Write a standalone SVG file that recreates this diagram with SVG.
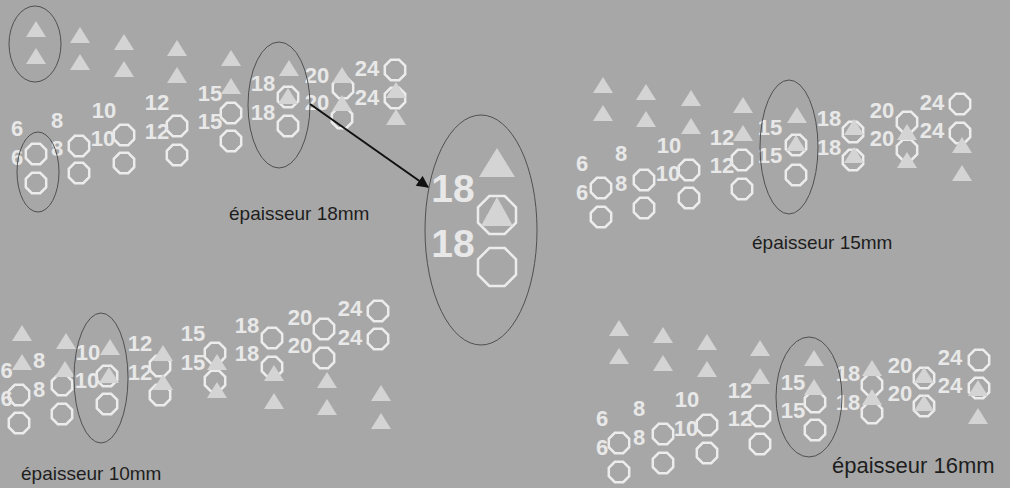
<svg xmlns="http://www.w3.org/2000/svg" xmlns:xlink="http://www.w3.org/1999/xlink" width="1010" height="488" viewBox="0 0 1010 488">
<style>
.o{fill:none;stroke:#ececec;stroke-width:2.5}
.t{fill:#d4d4d4}
.n{font-family:"Liberation Sans",Arial,sans-serif;font-weight:bold;font-size:22px;fill:#e8e8e8;text-anchor:middle}
.big{font-size:39px}
.e{fill:none;stroke:#505050;stroke-width:1}
.cap{font-family:"Liberation Sans",Arial,sans-serif;font-size:19px;fill:#1e1e1e}
.capL{font-size:22px}
.c{stroke:#111;stroke-width:2;fill:none}
</style>
<defs>
<polygon id="oct" class="o" points="4.2,-10.2 10.2,-4.2 10.2,4.2 4.2,10.2 -4.2,10.2 -10.2,4.2 -10.2,-4.2 -4.2,-10.2"/>
<polygon id="tri" class="t" points="0,-8 10,8 -10,8"/>
<marker id="ah" viewBox="0 0 10 10" refX="9" refY="5" markerWidth="7" markerHeight="6" orient="auto" markerUnits="strokeWidth"><path d="M0,0 L10,5 L0,10 z" fill="#111"/></marker>
</defs>
<rect width="1010" height="488" fill="#a7a7a7"/>

<g id="panel-18mm">
<use href="#oct" x="36" y="154"/><use href="#oct" x="36" y="183"/>
<use href="#oct" x="79" y="146"/><use href="#oct" x="79" y="173"/>
<use href="#oct" x="124" y="135"/><use href="#oct" x="124" y="163"/>
<use href="#oct" x="177" y="126"/><use href="#oct" x="177" y="155"/>
<use href="#oct" x="231" y="113"/><use href="#oct" x="231" y="141"/>
<use href="#oct" x="288" y="97"/><use href="#oct" x="288" y="126"/>
<use href="#oct" x="343" y="88"/><use href="#oct" x="342" y="118"/>
<use href="#oct" x="395" y="70"/><use href="#oct" x="395" y="98"/>
<use href="#tri" x="36" y="29"/><use href="#tri" x="36" y="56"/>
<use href="#tri" x="80" y="35"/><use href="#tri" x="80" y="62"/>
<use href="#tri" x="124" y="42"/><use href="#tri" x="124" y="69"/>
<use href="#tri" x="177" y="48"/><use href="#tri" x="177" y="75"/>
<use href="#tri" x="231" y="58"/><use href="#tri" x="231" y="86"/>
<use href="#tri" x="289" y="68"/><use href="#tri" x="288" y="96"/>
<use href="#tri" x="342" y="75"/><use href="#tri" x="342" y="103"/>
<use href="#tri" x="396" y="90"/><use href="#tri" x="396" y="117"/>
<text class="n" x="17" y="136">6</text><text class="n" x="17" y="165">6</text>
<text class="n" x="57" y="128">8</text><text class="n" x="57" y="156">8</text>
<text class="n" x="104" y="118">10</text><text class="n" x="103" y="146">10</text>
<text class="n" x="157" y="110">12</text><text class="n" x="157" y="139">12</text>
<text class="n" x="210" y="101">15</text><text class="n" x="210" y="129">15</text>
<text class="n" x="263" y="91">18</text><text class="n" x="263" y="120">18</text>
<text class="n" x="317" y="83">20</text><text class="n" x="317" y="110">20</text>
<text class="n" x="367" y="76">24</text><text class="n" x="367" y="105">24</text>
<ellipse class="e" cx="35" cy="44" rx="26" ry="38"/>
<ellipse class="e" cx="38" cy="172" rx="21" ry="40"/>
<ellipse class="e" cx="279" cy="105" rx="31" ry="63"/>
<text class="cap" x="229" y="220">épaisseur 18mm</text>
</g>

<g id="detail-18">
<ellipse class="e" cx="481" cy="230" rx="56" ry="115"/>
<polygon class="o" points="504.7,196 516,207.3 516,222.7 504.7,234 489.3,234 478,222.7 478,207.3 489.3,196"/>
<polygon class="o" points="504.7,248 516,259.3 516,274.7 504.7,286 489.3,286 478,274.7 478,259.3 489.3,248"/>
<polygon class="t" points="497,148 515,177 479,177"/>
<polygon class="t" points="497,197 513,226 481,226"/>
<text class="n big" x="453" y="202">18</text>
<text class="n big" x="453" y="257">18</text>
</g>

<g id="panel-15mm">
<use href="#oct" x="601" y="188"/><use href="#oct" x="601" y="217"/>
<use href="#oct" x="644" y="180"/><use href="#oct" x="644" y="208"/>
<use href="#oct" x="689" y="170"/><use href="#oct" x="689" y="198"/>
<use href="#oct" x="742" y="160"/><use href="#oct" x="742" y="189"/>
<use href="#oct" x="796" y="145"/><use href="#oct" x="796" y="175"/>
<use href="#oct" x="853" y="132"/><use href="#oct" x="853" y="160"/>
<use href="#oct" x="907" y="122"/><use href="#oct" x="907" y="150"/>
<use href="#oct" x="960" y="104"/><use href="#oct" x="960" y="133"/>
<use href="#tri" x="603" y="85"/><use href="#tri" x="603" y="113"/>
<use href="#tri" x="646" y="92"/><use href="#tri" x="646" y="119"/>
<use href="#tri" x="691" y="98"/><use href="#tri" x="691" y="126"/>
<use href="#tri" x="743" y="105"/><use href="#tri" x="743" y="133"/>
<use href="#tri" x="797" y="115"/><use href="#tri" x="796" y="143"/>
<use href="#tri" x="854" y="127"/><use href="#tri" x="854" y="155"/>
<use href="#tri" x="907" y="132"/><use href="#tri" x="907" y="160"/>
<use href="#tri" x="962" y="145"/><use href="#tri" x="962" y="173"/>
<text class="n" x="582" y="171">6</text><text class="n" x="582" y="200">6</text>
<text class="n" x="621" y="161">8</text><text class="n" x="621" y="191">8</text>
<text class="n" x="669" y="153">10</text><text class="n" x="668" y="181">10</text>
<text class="n" x="722" y="145">12</text><text class="n" x="722" y="173">12</text>
<text class="n" x="770" y="135">15</text><text class="n" x="770" y="163">15</text>
<text class="n" x="829" y="126">18</text><text class="n" x="829" y="155">18</text>
<text class="n" x="882" y="118">20</text><text class="n" x="882" y="146">20</text>
<text class="n" x="932" y="110">24</text><text class="n" x="932" y="138">24</text>
<ellipse class="e" cx="789" cy="147" rx="29" ry="67"/>
<text class="cap" x="752" y="249">épaisseur 15mm</text>
</g>

<g id="panel-10mm">
<use href="#oct" x="19" y="395"/><use href="#oct" x="19" y="423"/>
<use href="#oct" x="62" y="385"/><use href="#oct" x="62" y="414"/>
<use href="#oct" x="107" y="376"/><use href="#oct" x="107" y="404"/>
<use href="#oct" x="160" y="366"/><use href="#oct" x="160" y="395"/>
<use href="#oct" x="215" y="353"/><use href="#oct" x="215" y="381"/>
<use href="#oct" x="272" y="338"/><use href="#oct" x="272" y="367"/>
<use href="#oct" x="324" y="329"/><use href="#oct" x="324" y="358"/>
<use href="#oct" x="378" y="311"/><use href="#oct" x="378" y="339"/>
<use href="#tri" x="22" y="333"/><use href="#tri" x="22" y="362"/>
<use href="#tri" x="66" y="341"/><use href="#tri" x="65" y="369"/>
<use href="#tri" x="110" y="347"/><use href="#tri" x="109" y="375"/>
<use href="#tri" x="163" y="353"/><use href="#tri" x="163" y="382"/>
<use href="#tri" x="217" y="362"/><use href="#tri" x="217" y="390"/>
<use href="#tri" x="274" y="373"/><use href="#tri" x="274" y="401"/>
<use href="#tri" x="327" y="380"/><use href="#tri" x="327" y="407"/>
<use href="#tri" x="381" y="393"/><use href="#tri" x="381" y="421"/>
<text class="n" x="6.5" y="378">6</text><text class="n" x="6.5" y="406">6</text>
<text class="n" x="39" y="368">8</text><text class="n" x="39" y="397">8</text>
<text class="n" x="88" y="360">10</text><text class="n" x="87" y="388">10</text>
<text class="n" x="140" y="351">12</text><text class="n" x="140" y="380">12</text>
<text class="n" x="193" y="341">15</text><text class="n" x="193" y="370">15</text>
<text class="n" x="247" y="333">18</text><text class="n" x="247" y="361">18</text>
<text class="n" x="300" y="325">20</text><text class="n" x="300" y="353">20</text>
<text class="n" x="350" y="316">24</text><text class="n" x="350" y="345">24</text>
<ellipse class="e" cx="101" cy="378" rx="27" ry="65"/>
<text class="cap" x="21" y="480">épaisseur 10mm</text>
</g>

<g id="panel-16mm">
<use href="#oct" x="619" y="443"/><use href="#oct" x="619" y="472"/>
<use href="#oct" x="663" y="434"/><use href="#oct" x="663" y="463"/>
<use href="#oct" x="707" y="425"/><use href="#oct" x="707" y="453"/>
<use href="#oct" x="760" y="416"/><use href="#oct" x="760" y="444"/>
<use href="#oct" x="815" y="402"/><use href="#oct" x="815" y="430"/>
<use href="#oct" x="872" y="385"/><use href="#oct" x="872" y="413"/>
<use href="#oct" x="924" y="378"/><use href="#oct" x="924" y="406"/>
<use href="#oct" x="979" y="360"/><use href="#oct" x="979" y="388"/>
<use href="#tri" x="619" y="328"/><use href="#tri" x="619" y="356"/>
<use href="#tri" x="663" y="335"/><use href="#tri" x="663" y="363"/>
<use href="#tri" x="707" y="342"/><use href="#tri" x="707" y="369"/>
<use href="#tri" x="760" y="348"/><use href="#tri" x="760" y="376"/>
<use href="#tri" x="814" y="358"/><use href="#tri" x="814" y="387"/>
<use href="#tri" x="872" y="368"/><use href="#tri" x="872" y="397"/>
<use href="#tri" x="924" y="375"/><use href="#tri" x="924" y="403"/>
<use href="#tri" x="978" y="388"/><use href="#tri" x="978" y="416"/>
<text class="n" x="602" y="426">6</text><text class="n" x="602" y="455">6</text>
<text class="n" x="639" y="416">8</text><text class="n" x="639" y="445">8</text>
<text class="n" x="687" y="407">10</text><text class="n" x="686" y="436">10</text>
<text class="n" x="740" y="398">12</text><text class="n" x="740" y="426">12</text>
<text class="n" x="793" y="390">15</text><text class="n" x="793" y="418">15</text>
<text class="n" x="848" y="381">18</text><text class="n" x="848" y="410">18</text>
<text class="n" x="900" y="373">20</text><text class="n" x="900" y="401">20</text>
<text class="n" x="950" y="365">24</text><text class="n" x="950" y="393">24</text>
<ellipse class="e" cx="809" cy="397" rx="33" ry="60"/>
<text class="cap capL" x="832" y="473">épaisseur 16mm</text>
</g>

<g id="connectors">
<line class="c" x1="310" y1="104" x2="428" y2="187" marker-end="url(#ah)"/>
</g>
</svg>
